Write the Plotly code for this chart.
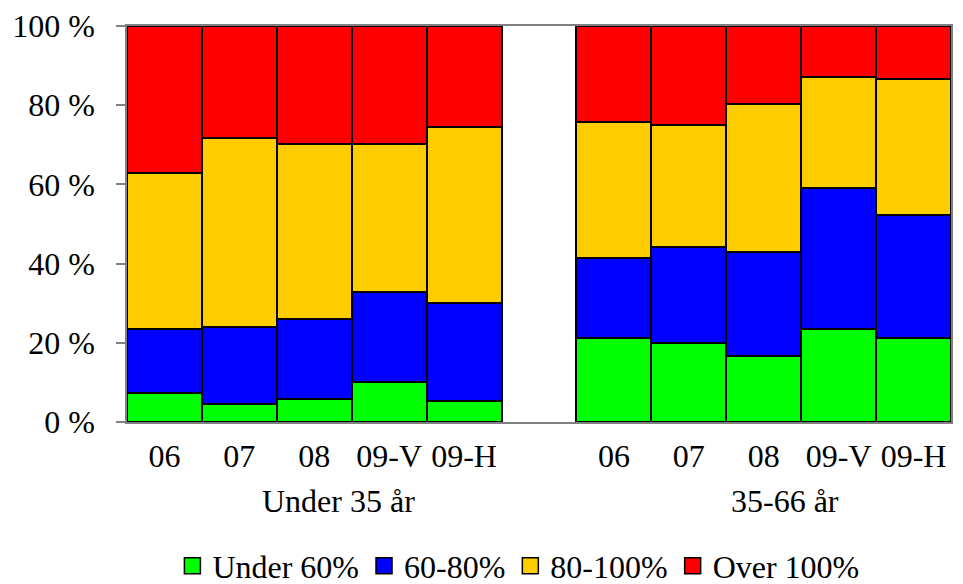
import plotly.graph_objects as go

# Data (percent shares, stacked to 100)
periods = ["06", "07", "08", "09-V", "09-H"]
groups = ["Under 35 år", "35-66 år"]
series_names = ["Under 60%", "60-80%", "80-100%", "Over 100%"]
colors = ["#00FF00", "#0000FF", "#FFCC00", "#FF0000"]
y_tickvals = [0, 20, 40, 60, 80, 100]
y_ticktext = ["0 %", "20 %", "40 %", "60 %", "80 %", "100 %"]

under60_g1 = [7.3, 4.5, 5.9, 10.0, 5.2]
p60_80_g1 = [16.1, 19.6, 20.2, 22.8, 24.8]
p80_100_g1 = [39.5, 47.7, 44.2, 37.5, 44.4]
over100_g1 = [37.1, 28.2, 29.7, 29.7, 25.6]

under60_g2 = [21.3, 20.0, 16.6, 23.4, 21.3]
p60_80_g2 = [20.2, 24.2, 26.3, 35.6, 31.0]
p80_100_g2 = [34.2, 30.8, 37.5, 28.2, 34.2]
over100_g2 = [24.3, 25.0, 19.6, 12.8, 13.5]

g1 = [under60_g1, p60_80_g1, p80_100_g1, over100_g1]
g2 = [under60_g2, p60_80_g2, p80_100_g2, over100_g2]

x1 = list(range(0, 5))
x2 = list(range(6, 11))
xs = x1 + x2
ticktext = periods + periods

FONT = "Liberation Serif, Times New Roman, serif"
GRAY = "#808080"

fig = go.Figure()
for i, name in enumerate(series_names):
    fig.add_trace(go.Bar(
        x=xs, y=g1[i] + g2[i], name=name,
        marker=dict(color=colors[i], line=dict(color="black", width=2.5)),
        width=1.0, showlegend=False, hoverinfo="y+name",
    ))
for i, name in enumerate(series_names):
    fig.add_trace(go.Scatter(
        x=[None], y=[None], mode="markers", name=name,
        marker=dict(symbol="square", size=26, color=colors[i],
                    line=dict(color="black", width=1.5)),
        showlegend=True,
    ))

fig.update_layout(
    barmode="stack",
    bargap=0,
    width=963, height=584,
    margin=dict(l=127, r=12, t=26, b=162, autoexpand=False),
    paper_bgcolor="white", plot_bgcolor="white",
    font=dict(family=FONT, size=32, color="black"),
    legend=dict(orientation="h", x=0.475, xanchor="center",
                yref="container", y=0.031, yanchor="middle",
                traceorder="normal", font=dict(family=FONT, size=32, color="black"),
                itemsizing="trace", itemwidth=30, bgcolor="rgba(0,0,0,0)"),
    xaxis=dict(range=[-0.5, 10.5], tickmode="array", tickvals=xs, ticktext=ticktext,
               showline=True, linecolor=GRAY, linewidth=1.5, mirror=True,
               ticks="", showgrid=False, zeroline=False, ticklabelstandoff=5,
               automargin=False, tickfont=dict(family=FONT, size=32)),
    yaxis=dict(range=[0, 100], tickmode="array", tickvals=y_tickvals, ticktext=y_ticktext,
               showline=True, linecolor=GRAY, linewidth=1.5, mirror=True,
               ticks="outside", ticklen=9, tickcolor=GRAY, tickwidth=1.5,
               showgrid=False, zeroline=False, ticklabelstandoff=15,
               automargin=False, tickfont=dict(family=FONT, size=32)),
)

fig.add_annotation(x=2.33, y=-0.1995, xref="x", yref="paper", text=groups[0],
                   showarrow=False, yanchor="middle", font=dict(family=FONT, size=32))
fig.add_annotation(x=8.29, y=-0.1995, xref="x", yref="paper", text=groups[1],
                   showarrow=False, yanchor="middle", font=dict(family=FONT, size=32))

fig.write_html("out.html", config={"displayModeBar": False},
               post_script="document.body.style.margin='0';")
